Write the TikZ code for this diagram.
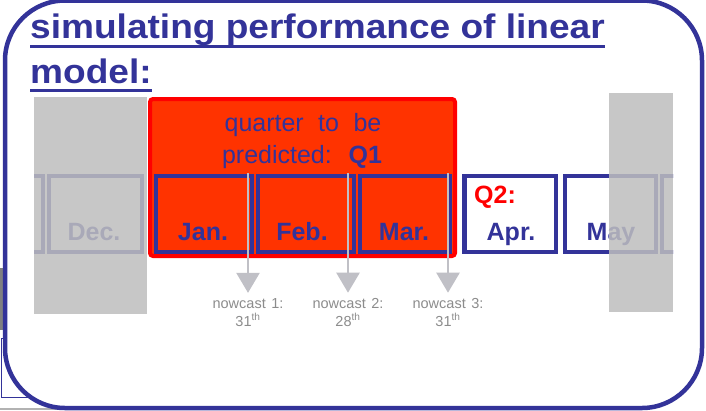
\documentclass[tikz,border=0pt]{standalone}
\usepackage{fontspec}
\setmainfont{Liberation Sans}
\usetikzlibrary{arrows.meta}
\definecolor{navy}{HTML}{333399}
\definecolor{redfill}{HTML}{FF3300}
\definecolor{redline}{HTML}{FF0000}
\definecolor{shade}{RGB}{190,190,190}
\definecolor{arrowgray}{RGB}{192,192,198}
\definecolor{notegray}{RGB}{140,140,140}
\tikzset{
  titletext/.style={inner sep=0pt, anchor=base west, text=navy, font=\fontsize{34}{40}\selectfont\bfseries},
  uline/.style={draw=navy, line width=3pt},
  monthbox/.style={draw=navy, line width=4.5pt},
  monthlabel/.style={inner sep=0pt, anchor=base, text=navy, font=\fontsize{25}{30}\selectfont\bfseries},
  quartertext/.style={inner sep=0pt, anchor=base, text=navy, font=\fontsize{25}{30}\selectfont},
  notetext/.style={inner sep=0pt, anchor=base, text=notegray, font=\fontsize{14.5}{18}\selectfont},
  nowarrow/.style={draw=arrowgray, line width=2.5pt, -{Triangle[width=23pt,length=20pt]}, shorten >=5pt},
  grayover/.style={fill=shade, fill opacity=0.85, draw=none}
}
\begin{document}
\begin{tikzpicture}[x=1pt,y=-1pt]
\useasboundingbox (0,0) rectangle (706,410);
% cropping remnants at the lower left
\fill[gray!100] (0,268) rectangle (3,330);
\draw[navy, line width=1pt] (1.5,338) rectangle (60,397);
\draw[gray!60, line width=1.5pt] (0,409.2) -- (60,409.2);
% frame
\draw[navy, line width=4.5pt, fill=white, rounded corners=60pt] (5,0.5) rectangle (702,408);
% title
\node[titletext] (t1) at (30,38) {\scalebox{1.09}[1]{simulating performance of linear}};
\node[titletext] (t2) at (30,83) {\scalebox{1.09}[1]{model:}};
\draw[uline] ([yshift=-8.5pt]t1.base west) -- ([yshift=-8.5pt]t1.base east);
\draw[uline] ([yshift=-7pt]t2.base west) -- ([yshift=-7pt]t2.base east);
% quarter to be predicted
\draw[redline, fill=redfill, line width=4pt, rounded corners=3pt] (150,99) rectangle (455,256);
\node[quartertext] (q1a) at (303,131) {quarter\hspace{0.3em} to\hspace{0.3em} be};
\node[quartertext] (q1b) at (302,163) {predicted:\hspace{0.3em} \textbf{Q1}};
% month strip
\begin{scope}
  \clip (34,150) rectangle (673,280);
  \draw[monthbox] (-60,176) rectangle (43,252);
  \draw[monthbox] (49,176) rectangle (142,252);
  \draw[monthbox] (156,176) rectangle (252,252);
  \draw[monthbox] (258,176) rectangle (354,252);
  \draw[monthbox] (360,176) rectangle (450,252);
  \draw[monthbox] (464.5,176) rectangle (556,252);
  \draw[monthbox] (565,176) rectangle (656,252);
  \draw[monthbox] (662,176) rectangle (760,252);
\end{scope}
\node[monthlabel] (dec) at (94,240) {Dec.};
\node[monthlabel] (jan) at (203,240) {Jan.};
\node[monthlabel] (feb) at (302,240) {Feb.};
\node[monthlabel] (mar) at (404,240) {Mar.};
\node[monthlabel] (apr) at (511,240) {Apr.};
\node[monthlabel] (may) at (611,240) {May};
\node[monthlabel, anchor=base west, text=redline] (q2) at (474,203) {Q2:};
% nowcast arrows
\coordinate (a1) at (248,173);
\coordinate (a2) at (348,173);
\coordinate (a3) at (448,173);
\node[notetext] (n1) at (248,308) {nowcast\hspace{0.1em} 1:};
\node[notetext] (n2) at (348,308) {nowcast\hspace{0.1em} 2:};
\node[notetext] (n3) at (448,308) {nowcast\hspace{0.1em} 3:};
\node[notetext] (d1) at (248,326) {31\textsuperscript{th}};
\node[notetext] (d2) at (348,326) {28\textsuperscript{th}};
\node[notetext] (d3) at (448,326) {31\textsuperscript{th}};
\draw[nowarrow] (a1) -- (n1.north);
\draw[nowarrow] (a2) -- (n2.north);
\draw[nowarrow] (a3) -- (n3.north);
% gray shading of the months outside the two quarters
\fill[grayover] (34,97) rectangle (147,314);
\fill[grayover] (609,93) rectangle (673,312);
\end{tikzpicture}
\end{document}
